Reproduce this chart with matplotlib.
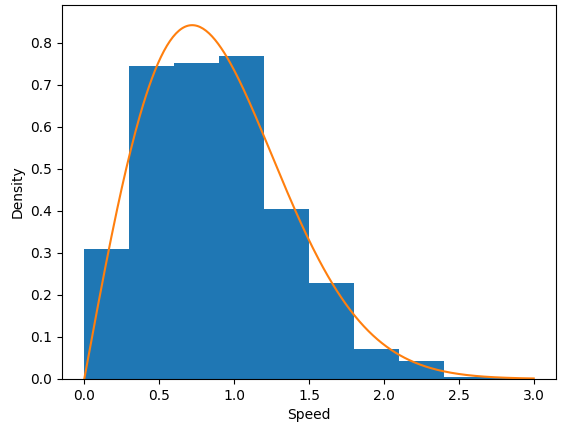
import numpy as np
import matplotlib
matplotlib.use("Agg")
import matplotlib.pyplot as plt

bin_edges = [0.0, 0.3, 0.6, 0.9, 1.2, 1.5, 1.8, 2.1, 2.4, 2.7, 3.0]
densities = [0.31, 0.745, 0.752, 0.770, 0.405, 0.228, 0.070, 0.042, 0.004, 0.003]
sigma = 0.72  # Rayleigh scale of the fitted curve

fig, ax = plt.subplots(figsize=(5.67, 4.32), dpi=100)
edges = np.array(bin_edges)
ax.bar(edges[:-1], densities, width=np.diff(edges), align="edge", color="#1f77b4")
x = np.linspace(0, 3, 300)
ax.plot(x, x / sigma**2 * np.exp(-x**2 / (2 * sigma**2)), color="#ff7f0e")
ax.set_xlabel("Speed")
ax.set_ylabel("Density")
ax.set_ylim(0, 0.89)
fig.subplots_adjust(left=0.109, right=0.981, top=0.988, bottom=0.123)
fig.savefig("out.png")
